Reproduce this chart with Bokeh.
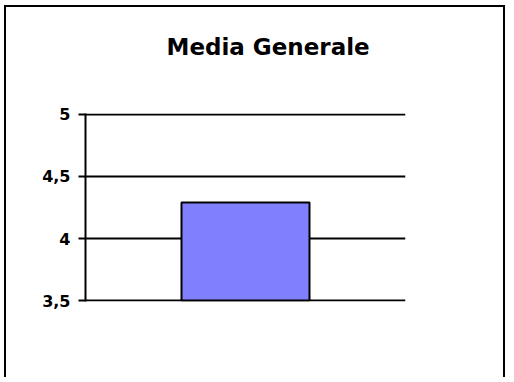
from bokeh.plotting import figure
from bokeh.models import Range1d, FactorRange, FixedTicker, Title
from bokeh.embed import file_html
from bokeh.resources import INLINE

categories = ["Media Generale"]
values = [4.29]
y_ticks = [3.5, 4.0, 4.5, 5.0]
y_tick_labels = ["3,5", "4", "4,5", "5"]
title_text = "Media Generale"

W, H = 501, 372
p = figure(width=W, height=H, output_backend="svg", toolbar_location=None,
           x_range=FactorRange(*categories, range_padding=0),
           y_range=Range1d(3.492, 5.008),
           min_border_left=79, min_border_right=102, min_border_top=106, min_border_bottom=78,
           title=None)
p.margin = (5, 0, 0, 4)
p.styles = {"border-top": "2px solid black", "border-left": "2px solid black",
            "border-right": "2px solid black"}

p.vbar(x=categories, top=values, bottom=3.5, width=0.4,
       fill_color="#8080FF", line_color="black", line_width=2)

# spacer between the chart title and the plot frame
p.add_layout(Title(text=" ", text_font="DejaVu Sans", text_font_size="23px",
                   standoff=26), "above")
p.add_layout(Title(text=title_text, text_font="DejaVu Sans", text_font_size="23px",
                   text_font_style="bold", text_color="black", align="left",
                   offset=81, standoff=0), "above")

p.xaxis.visible = False
p.xgrid.visible = False
p.ygrid.grid_line_color = "black"
p.ygrid.grid_line_width = 2
p.ygrid.ticker = FixedTicker(ticks=y_ticks)

ya = p.yaxis[0]
ya.ticker = FixedTicker(ticks=y_ticks)
ya.major_label_overrides = {t: l for t, l in zip(y_ticks, y_tick_labels)}
ya.major_label_text_font = "DejaVu Sans"
ya.major_label_text_font_style = "bold"
ya.major_label_text_font_size = "16px"
ya.major_label_text_color = "black"
ya.axis_line_width = 2
ya.axis_line_color = "black"
ya.major_tick_line_width = 2
ya.major_tick_line_color = "black"
ya.major_tick_out = 7
ya.major_tick_in = 0
ya.minor_tick_line_color = None
ya.major_label_standoff = 8

p.outline_line_color = None
p.background_fill_color = "white"
p.border_fill_color = "white"

open("out.html", "w").write(file_html(p, INLINE))
